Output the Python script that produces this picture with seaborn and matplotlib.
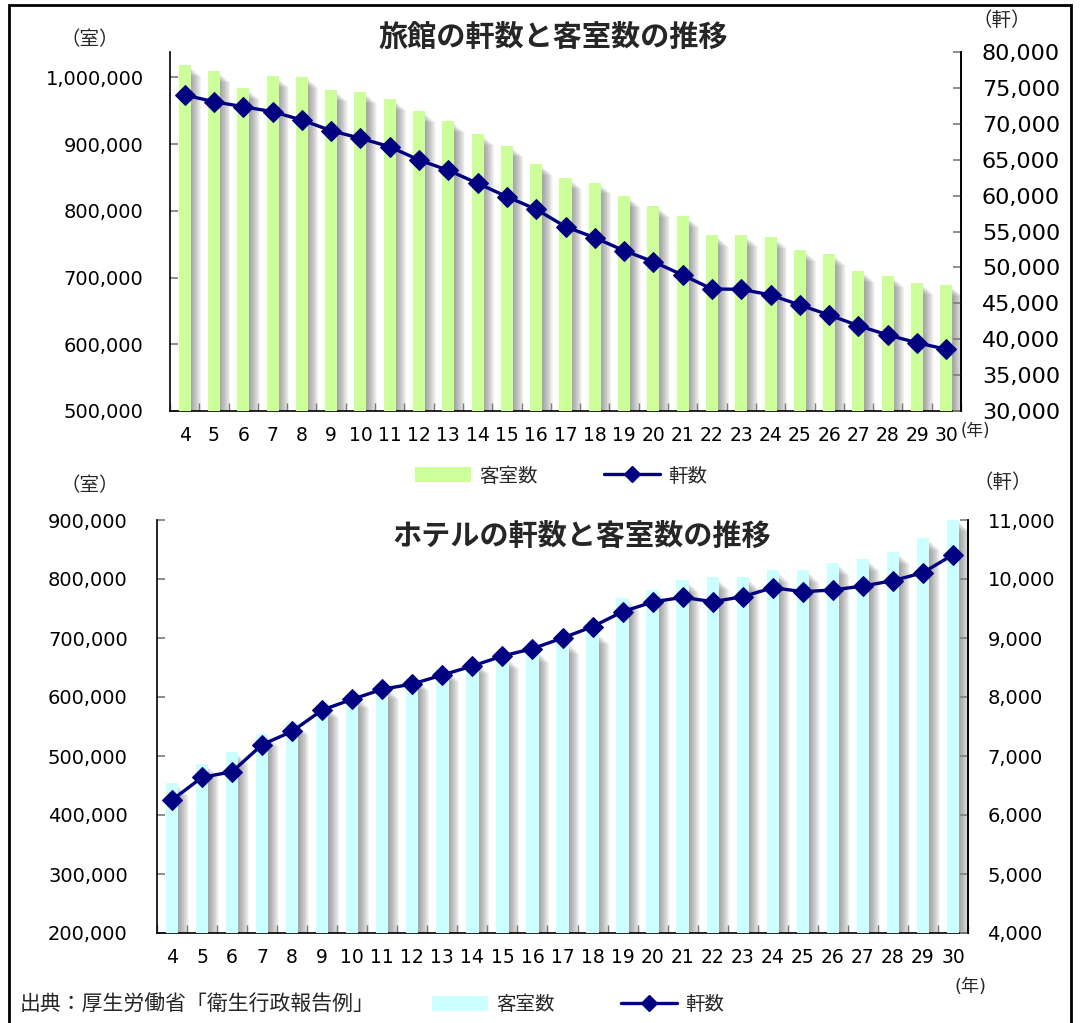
import numpy as np
import pandas as pd
import matplotlib
matplotlib.use("Agg")
import matplotlib.pyplot as plt
import seaborn as sns
from matplotlib.ticker import FuncFormatter
from matplotlib.patches import Patch, Rectangle
from matplotlib.lines import Line2D

# ---------------- data ----------------
years = list(range(4, 31))
year_labels = [str(y) for y in years]

ryokan_rooms = [1018000, 1009000, 983500, 1001500, 1001000, 980500, 977500, 967000, 949000,
                934000, 914700, 897200, 869800, 849300, 842400, 821900, 806900, 791900,
                763500, 763500, 760500, 741000, 735000, 709500, 702000, 691500, 688600]
ryokan_count = [74010, 73080, 72380, 71690, 70530, 69040, 67980, 66810, 64960,
                63520, 61710, 59850, 58090, 55670, 54140, 52330, 50790, 48940,
                46990, 46950, 46160, 44760, 43370, 41880, 40580, 39510, 38590]

hotel_rooms = [453700, 486400, 507300, 537800, 557600, 586000, 603000, 618000, 633000,
               648000, 661000, 669000, 680000, 695000, 710700, 767300, 781400, 798300,
               802900, 803400, 814700, 815200, 827600, 834400, 846300, 870000, 901700]
hotel_count = [6254, 6639, 6733, 7192, 7418, 7780, 7961, 8131, 8220,
               8373, 8525, 8695, 8819, 9000, 9192, 9446, 9610, 9690,
               9615, 9700, 9853, 9785, 9814, 9881, 9971, 10107, 10412]

title_top = "旅館の軒数と客室数の推移"
title_bottom = "ホテルの軒数と客室数の推移"
label_rooms = "客室数"
label_count = "軒数"
source_text = "出典：厚生労働省「衛生行政報告例」"

# ---------------- style ----------------
sns.set_theme(style="white")
plt.rcParams["font.family"] = ["DejaVu Sans", "Noto Sans CJK JP"]

W, H = 1080, 1023
fig = plt.figure(figsize=(W / 100, H / 100), dpi=100)
fig.patch.set_facecolor("white")

NAVY = "#000080"
GREEN = "#CCFF99"
CYAN = "#CCFFFF"


def box(l, t, r, b):
    return [l / W, 1 - b / H, (r - l) / W, (b - t) / H]


fmt = FuncFormatter(lambda v, p: f"{v:,.0f}")


def panel(rect, rooms, counts, color, ylim_l, lticks, ylim_r, rticks,
          lsize, rsize, lpad, rpad):
    ax = fig.add_axes(rect)
    df = pd.DataFrame({"year": year_labels, "rooms": rooms})
    sns.barplot(data=df, x="year", y="rooms", color=color, saturation=1,
                width=0.41, errorbar=None, ax=ax, linewidth=0, zorder=3)
    x = np.arange(len(years))
    span = ylim_l[1] - ylim_l[0]
    # soft drop shadow to the right of each bar
    for i, d in enumerate(np.linspace(0.03, 0.36, 16)):
        ax.bar(x + d, np.array(rooms) - span * (0.008 + 0.0015 * i), width=0.41,
               color="#5a5a5a", alpha=0.045, linewidth=0, zorder=1)
    ax.set_xlim(-0.5, len(years) - 0.5)
    ax.set_ylim(*ylim_l)
    ax.set_yticks(lticks)
    ax.yaxis.set_major_formatter(fmt)
    ax.set_xlabel("")
    ax.set_ylabel("")
    ax.set_xticks(x)
    ax.set_xticklabels(year_labels)
    ax.set_xticks(np.arange(-0.5, len(years), 1.0), minor=True)
    ax.tick_params(axis="x", which="major", length=0, pad=11, labelsize=13.5,
                   colors="black")
    ax.tick_params(axis="x", which="minor", direction="in", length=6,
                   color="#808080", bottom=True)
    ax.tick_params(axis="y", direction="in", length=6, color="#808080",
                   pad=lpad, labelsize=lsize, left=True, labelcolor="black")
    for s in ["left", "bottom", "right"]:
        ax.spines[s].set_color("black")
        ax.spines[s].set_linewidth(1.2)
    ax.spines["top"].set_visible(False)

    ax2 = ax.twinx()
    sns.lineplot(x=x, y=counts, ax=ax2, color=NAVY, linewidth=2.4,
                 marker="D", markersize=10, markeredgecolor=NAVY,
                 markerfacecolor=NAVY, zorder=5)
    ax2.set_ylim(*ylim_r)
    ax2.set_yticks(rticks)
    ax2.yaxis.set_major_formatter(fmt)
    ax2.set_ylabel("")
    ax2.tick_params(axis="y", direction="in", length=6, color="#808080",
                    pad=rpad, labelsize=rsize, right=True, labelcolor="black")
    ax2.spines["top"].set_visible(False)
    ax2.spines["right"].set_color("black")
    ax2.spines["right"].set_linewidth(1.2)
    ax2.spines["left"].set_visible(False)
    ax2.spines["bottom"].set_visible(False)
    ax2.set_xlim(-0.5, len(years) - 0.5)
    return ax, ax2


# ---------------- top panel (旅館) ----------------
panel(box(170, 52, 961, 411), ryokan_rooms, ryokan_count, GREEN,
      (500000, 1038000), np.arange(500000, 1000001, 100000),
      (30000, 80000), np.arange(30000, 80001, 5000),
      14, 16, 19, 15)

# ---------------- bottom panel (ホテル) ----------------
panel(box(157, 520, 968, 933), hotel_rooms, hotel_count, CYAN,
      (200000, 900000), np.arange(200000, 900001, 100000),
      (4000, 11000), np.arange(4000, 11001, 1000),
      14, 14, 21, 14)

# ---------------- texts ----------------
def ftxt(x, y, s, **kw):
    fig.text(x / W, 1 - y / H, s, **kw)

ftxt(553, 38, title_top, ha="center", va="center", fontsize=21, fontweight="bold")
ftxt(582, 537, title_bottom, ha="center", va="center", fontsize=21, fontweight="bold")
ftxt(90, 40, "（室）", ha="center", va="center", fontsize=14)
ftxt(1002, 20, "（軒）", ha="center", va="center", fontsize=14)
ftxt(975, 431, "(年)", ha="center", va="center", fontsize=12)
ftxt(90, 486, "（室）", ha="center", va="center", fontsize=14)
ftxt(1003, 483, "（軒）", ha="center", va="center", fontsize=14)
ftxt(970, 987, "(年)", ha="center", va="center", fontsize=13)
ftxt(20, 1005, source_text, ha="left", va="center", fontsize=15)

# ---------------- legends ----------------
def legend(color, cx, cy):
    handles = [Patch(facecolor=color, edgecolor="none", label=label_rooms),
               Line2D([], [], color=NAVY, lw=2.4, marker="D", markersize=8,
                      label=label_count)]
    fig.legend(handles=handles, loc="center", bbox_to_anchor=(cx / W, 1 - cy / H),
               ncol=2, frameon=False, fontsize=14, handlelength=2.9,
               handleheight=0.8, handletextpad=0.4, columnspacing=3.4)

legend(GREEN, 561, 476)
legend(CYAN, 578, 1005)

# ---------------- outer border ----------------
fig.patches.append(Rectangle((9 / W, -0.01), (1071 - 9) / W, 1 - 5 / H + 0.01,
                             transform=fig.transFigure, fill=False,
                             edgecolor="black", linewidth=2))

fig.savefig("out.png", dpi=100)
